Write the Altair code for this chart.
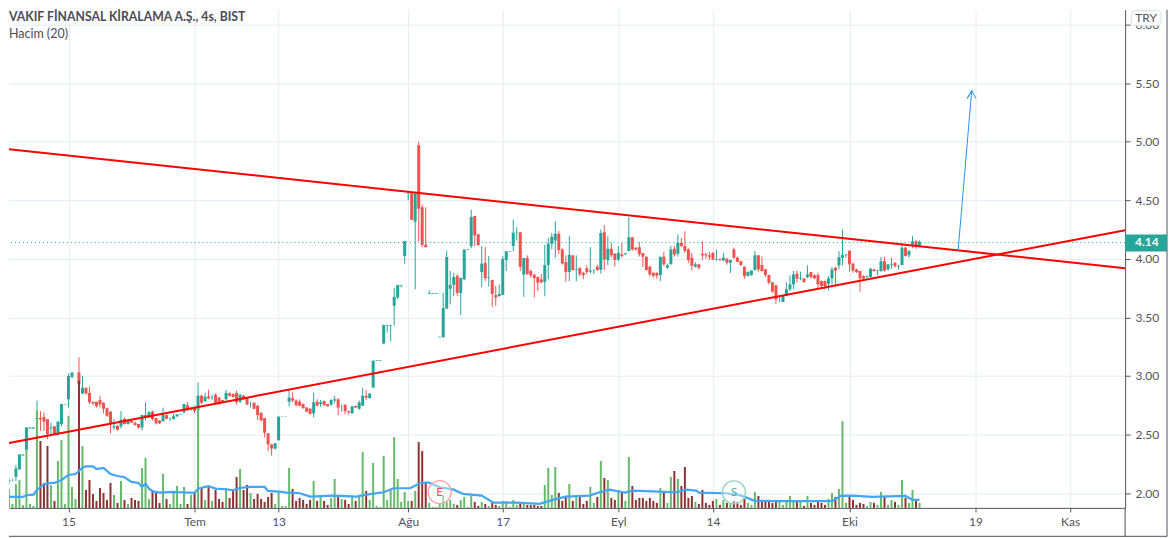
import altair as alt
import pandas as pd

# fiyat verileri (4 saatlik mumlar)
acilis = [
    2.10, 2.11, 2.10, 2.12, 2.14, 2.20, 2.32, 2.37, 2.55, 2.55,
    2.63, 2.64, 2.65, 2.63, 2.55, 2.57, 2.505, 2.59, 2.76, 2.80,
    2.99, 3.03, 3.03, 2.85, 2.90, 2.855, 2.78, 2.78, 2.795, 2.77,
    2.725, 2.695, 2.56, 2.575, 2.57, 2.635, 2.59, 2.615, 2.60, 2.59,
    2.56, 2.647, 2.647, 2.695, 2.64, 2.62, 2.615, 2.665, 2.635, 2.635,
    2.655, 2.67, 2.69, 2.75, 2.715, 2.73, 2.71, 2.83, 2.783, 2.825,
    2.815, 2.84, 2.815, 2.795, 2.80, 2.85, 2.845, 2.855, 2.78, 2.83,
    2.81, 2.755, 2.77, 2.745, 2.685, 2.64, 2.51, 2.415, 2.38, 2.45,
    2.653, 2.653, 2.78, 2.81, 2.79, 2.78, 2.76, 2.73, 2.72, 2.68,
    2.78, 2.76, 2.785, 2.76, 2.755, 2.79, 2.80, 2.75, 2.755, 2.70,
    2.68, 2.745, 2.72, 2.745, 2.83, 2.81, 2.90, 3.13, 3.13, 3.277,
    3.43, 3.43, 3.60, 3.67, 3.77, 4.024, 4.555, 4.56, 4.317, 4.97,
    4.44, 4.12, 3.70, 3.70, 3.70, 3.33, 3.33, 3.575, 3.745, 3.777,
    3.854, 3.709, 3.825, 4.08, 4.11, 4.365, 4.21, 3.888, 3.965, 3.84,
    3.82, 3.69, 3.68, 3.692, 3.99, 4.06, 4.109, 4.225, 4.228, 3.865,
    4.007, 3.896, 3.865, 3.845, 3.825, 3.805, 3.947, 4.129, 4.157, 4.214,
    4.08, 3.973, 3.888, 4.03, 3.905, 3.92, 3.88, 3.92, 3.89, 3.895,
    3.933, 3.905, 4.228, 3.99, 4.086, 4.044, 3.995, 4.038, 4.04, 4.066,
    4.185, 4.094, 4.10, 4.05, 4.018, 3.933, 3.88, 3.88, 3.862, 4.018,
    3.924, 3.953, 4.086, 4.044, 4.137, 4.109, 4.08, 4.01, 3.933, 3.953,
    4.043, 4.04, 4.03, 4.05, 3.99, 4.0, 3.987, 4.0, 3.967, 4.08,
    4.01, 3.98, 3.933, 3.853, 3.862, 3.904, 4.03, 3.947, 3.91, 3.862,
    3.80, 3.774, 3.66, 3.632, 3.683, 3.74, 3.782, 3.873, 3.83, 3.833,
    3.845, 3.887, 3.86, 3.862, 3.81, 3.81, 3.788, 3.833, 3.924, 3.944,
    4.009, 4.03, 4.07, 3.958, 3.91, 3.896, 3.853, 3.845, 3.845, 3.91,
    3.90, 3.896, 3.98, 3.91, 3.95, 3.967, 3.935, 3.947, 4.095, 4.03,
    4.123, 4.15, 4.117,
]
kapanis = [
    2.11, 2.08, 2.11, 2.12, 2.21, 2.33, 2.33, 2.56, 2.56, 2.56,
    2.64, 2.63, 2.61, 2.505, 2.56, 2.505, 2.61, 2.76, 2.76, 3.00,
    3.03, 3.03, 2.93, 2.90, 2.85, 2.775, 2.765, 2.74, 2.755, 2.72,
    2.66, 2.585, 2.57, 2.54, 2.625, 2.59, 2.62, 2.60, 2.58, 2.56,
    2.667, 2.667, 2.69, 2.633, 2.596, 2.596, 2.67, 2.635, 2.637, 2.655,
    2.67, 2.675, 2.76, 2.71, 2.72, 2.70, 2.83, 2.77, 2.823, 2.81,
    2.82, 2.76, 2.76, 2.78, 2.855, 2.83, 2.82, 2.775, 2.84, 2.80,
    2.755, 2.757, 2.72, 2.665, 2.62, 2.515, 2.415, 2.38, 2.425, 2.653,
    2.655, 2.655, 2.815, 2.79, 2.75, 2.745, 2.725, 2.695, 2.675, 2.775,
    2.745, 2.775, 2.75, 2.74, 2.795, 2.80, 2.73, 2.75, 2.70, 2.69,
    2.74, 2.73, 2.775, 2.83, 2.815, 2.85, 3.13, 3.135, 3.135, 3.436,
    3.436, 3.436, 3.675, 3.777, 3.775, 4.152, 4.56, 4.334, 4.56, 4.427,
    4.118, 4.10, 3.706, 3.706, 3.706, 3.335, 3.58, 4.016, 3.777, 3.845,
    3.709, 3.837, 4.08, 4.085, 4.357, 4.20, 4.118, 3.959, 3.834, 3.845,
    3.70, 3.67, 3.70, 3.999, 4.064, 4.064, 4.223, 4.228, 3.933, 4.007,
    3.87, 3.86, 3.836, 3.797, 3.80, 3.947, 4.129, 4.189, 4.214, 4.075,
    3.96, 3.888, 4.035, 3.905, 3.91, 3.868, 3.86, 3.888, 3.90, 3.90,
    3.905, 4.22, 3.995, 4.086, 4.03, 3.99, 4.05, 4.024, 4.047, 4.185,
    4.08, 4.08, 4.04, 4.018, 3.904, 3.867, 3.856, 3.856, 4.018, 3.953,
    3.944, 4.08, 4.038, 4.137, 4.109, 4.066, 3.99, 3.94, 3.953, 3.924,
    4.03, 4.03, 4.018, 3.995, 3.995, 3.99, 4.01, 3.967, 3.99, 4.01,
    3.975, 3.947, 3.853, 3.89, 3.90, 4.03, 3.91, 3.896, 3.862, 3.796,
    3.72, 3.654, 3.66, 3.683, 3.74, 3.782, 3.867, 3.83, 3.835, 3.80,
    3.867, 3.845, 3.833, 3.782, 3.768, 3.768, 3.833, 3.91, 3.90, 4.015,
    4.032, 4.038, 3.953, 3.90, 3.887, 3.833, 3.833, 3.85, 3.916, 3.896,
    3.905, 3.98, 3.90, 3.953, 3.955, 3.938, 3.94, 4.095, 4.024, 4.07,
    4.15, 4.11, 4.145,
]
yuksek = [
    2.12, 2.12, 2.13, 2.12, 2.24, 2.33, 2.33, 2.56, 2.56, 2.56,
    2.79, 2.70, 2.69, 2.63, 2.60, 2.57, 2.61, 2.76, 2.76, 3.02,
    3.03, 3.03, 3.16, 3.00, 2.90, 2.91, 2.78, 2.78, 2.83, 2.775,
    2.73, 2.70, 2.63, 2.58, 2.70, 2.645, 2.63, 2.62, 2.61, 2.59,
    2.667, 2.775, 2.70, 2.705, 2.64, 2.62, 2.73, 2.67, 2.647, 2.675,
    2.675, 2.675, 2.76, 2.775, 2.73, 2.74, 2.945, 2.84, 2.854, 2.883,
    2.84, 2.85, 2.82, 2.795, 2.88, 2.86, 2.85, 2.875, 2.845, 2.84,
    2.82, 2.78, 2.775, 2.75, 2.69, 2.64, 2.51, 2.42, 2.43, 2.653,
    2.655, 2.655, 2.888, 2.86, 2.80, 2.80, 2.765, 2.735, 2.725, 2.857,
    2.80, 2.795, 2.79, 2.76, 2.80, 2.83, 2.81, 2.755, 2.755, 2.70,
    2.745, 2.745, 2.79, 2.90, 2.88, 2.85, 3.13, 3.135, 3.135, 3.436,
    3.436, 3.436, 3.75, 3.777, 3.775, 4.152, 4.56, 4.56, 4.56, 5.0,
    4.464, 4.44, 3.73, 3.706, 3.706, 3.335, 3.71, 4.07, 3.897, 3.88,
    3.868, 3.84, 4.08, 4.085, 4.42, 4.365, 4.21, 4.11, 4.10, 4.025,
    3.82, 3.77, 3.78, 4.024, 4.064, 4.064, 4.336, 4.27, 4.228, 4.007,
    4.03, 3.91, 3.87, 3.85, 3.87, 4.12, 4.18, 4.22, 4.322, 4.237,
    4.09, 4.03, 4.194, 4.03, 4.03, 3.93, 3.89, 3.947, 4.10, 3.91,
    3.95, 4.25, 4.288, 4.194, 4.138, 4.05, 4.11, 4.138, 4.05, 4.356,
    4.185, 4.10, 4.143, 4.05, 4.02, 3.94, 3.885, 3.885, 4.018, 4.06,
    3.96, 4.11, 4.11, 4.208, 4.18, 4.236, 4.09, 4.05, 3.97, 3.955,
    4.15, 4.05, 4.06, 4.06, 4.08, 4.0, 4.05, 4.01, 3.99, 4.095,
    4.02, 3.98, 3.935, 3.89, 3.90, 4.066, 4.03, 4.02, 3.915, 3.865,
    3.80, 3.78, 3.68, 3.69, 3.80, 3.86, 3.896, 3.896, 3.89, 3.835,
    3.944, 3.887, 3.867, 3.88, 3.815, 3.815, 3.853, 3.93, 3.93, 4.066,
    4.25, 4.04, 4.07, 3.97, 3.915, 3.90, 3.86, 3.86, 3.92, 3.915,
    3.905, 4.018, 4.018, 3.953, 4.01, 3.97, 3.95, 4.123, 4.10, 4.07,
    4.194, 4.16, 4.157,
]
dusuk = [
    2.09, 2.07, 2.07, 2.10, 2.10, 2.20, 2.32, 2.35, 2.55, 2.55,
    2.59, 2.53, 2.53, 2.46, 2.505, 2.50, 2.49, 2.57, 2.75, 2.73,
    2.98, 3.03, 2.85, 2.845, 2.84, 2.76, 2.75, 2.73, 2.73, 2.68,
    2.65, 2.51, 2.54, 2.53, 2.55, 2.585, 2.585, 2.60, 2.575, 2.55,
    2.535, 2.62, 2.64, 2.62, 2.585, 2.59, 2.605, 2.63, 2.615, 2.625,
    2.65, 2.67, 2.68, 2.70, 2.70, 2.68, 2.69, 2.76, 2.78, 2.80,
    2.795, 2.755, 2.75, 2.78, 2.79, 2.825, 2.815, 2.755, 2.77, 2.795,
    2.75, 2.73, 2.715, 2.625, 2.615, 2.476, 2.36, 2.32, 2.37, 2.45,
    2.653, 2.653, 2.74, 2.775, 2.74, 2.74, 2.72, 2.69, 2.67, 2.647,
    2.74, 2.735, 2.745, 2.74, 2.745, 2.765, 2.665, 2.695, 2.675, 2.67,
    2.68, 2.73, 2.71, 2.745, 2.795, 2.81, 2.90, 3.13, 3.13, 3.27,
    3.37, 3.295, 3.43, 3.655, 3.755, 3.96, 4.50, 4.33, 3.74, 4.15,
    4.10, 4.10, 3.70, 3.70, 3.70, 3.33, 3.33, 3.575, 3.61, 3.68,
    3.684, 3.52, 3.82, 4.08, 4.09, 4.11, 4.11, 3.755, 3.81, 3.763,
    3.59, 3.60, 3.68, 3.69, 3.896, 4.06, 4.066, 4.157, 3.896, 3.675,
    3.865, 3.84, 3.67, 3.725, 3.79, 3.68, 3.825, 4.08, 4.01, 4.04,
    3.95, 3.805, 3.81, 3.90, 3.81, 3.85, 3.825, 3.868, 3.876, 3.87,
    3.895, 3.875, 3.905, 3.947, 4.01, 3.933, 3.98, 4.01, 4.03, 4.066,
    4.07, 4.07, 4.02, 3.93, 3.90, 3.85, 3.84, 3.83, 3.81, 3.94,
    3.915, 3.953, 4.02, 4.02, 4.10, 4.05, 3.965, 3.90, 3.925, 3.91,
    3.99, 4.0, 3.99, 3.99, 3.985, 3.985, 3.98, 3.95, 3.88, 4.0,
    3.97, 3.94, 3.83, 3.85, 3.855, 3.90, 3.89, 3.89, 3.845, 3.78,
    3.71, 3.617, 3.632, 3.63, 3.68, 3.725, 3.74, 3.796, 3.816, 3.80,
    3.833, 3.83, 3.83, 3.748, 3.745, 3.74, 3.73, 3.78, 3.776, 3.91,
    3.944, 4.01, 3.89, 3.88, 3.88, 3.72, 3.81, 3.825, 3.84, 3.89,
    3.86, 3.887, 3.89, 3.90, 3.916, 3.925, 3.91, 3.947, 4.02, 4.01,
    4.09, 4.086, 4.10,
]
hacim = [
    4, 9, 19, 4, 24, 28, 3, 58.5, 4, 2,
    98, 67, 25, 62, 23, 7, 47, 68, 4, 92.5,
    21, 9, 127.5, 62, 18, 28, 14, 7, 20, 15,
    8, 25, 13, 5, 27, 8, 4, 10, 8, 7,
    40, 50, 9, 18, 15, 5, 34, 9, 4, 15,
    22, 4, 21, 4, 13, 15, 102, 21, 8, 21,
    7, 18, 9, 6, 20, 10, 18, 31, 39, 18,
    23, 15, 9, 14, 9, 6, 11, 15, 4, 17,
    2, 2, 40, 19, 7, 10, 8, 4, 8, 27,
    7, 12, 7, 3, 10, 29, 11, 9, 8, 4,
    11, 7, 12, 56, 17, 8, 45, 2, 1, 52,
    8, 18, 71, 29, 6, 16, 7, 7, 17, 66,
    57, 26, 5, 1, 1, 4, 12, 6, 8, 4,
    3, 8, 11, 1, 12, 6, 2, 6, 4, 2,
    5, 3, 2, 7, 7, 1, 8, 3, 4, 6,
    3, 3, 3, 2, 2, 23, 40, 13, 41, 15,
    7, 12, 24, 7, 13, 11, 4, 7, 21, 5,
    11, 47, 30, 28, 10, 8, 16, 16, 7, 51,
    22, 8, 10, 10, 7, 10, 7, 5, 20, 16,
    5, 31, 37, 29, 22, 41, 10, 12, 6, 4,
    18, 5, 3, 7, 9, 3, 8, 5, 5, 7,
    6, 3, 9, 5, 3, 16, 12, 8, 7, 6,
    5, 8, 6, 3, 7, 12, 7, 7, 6, 2,
    12, 5, 3, 7, 5, 3, 9, 15, 11, 19,
    87, 5, 11, 8, 3, 5, 4, 2, 6, 5,
    3, 16, 11, 3, 8, 6, 3, 28, 10, 5,
    18, 7, 5,
]

# hacim ortalamasi (20), okunan kirilma noktalari
ort_bar = [
    0, 6, 7, 9, 10, 12, 14, 15, 17, 19, 21, 23, 24, 26, 27, 29, 31, 33, 35, 37,
    39, 40, 41, 42, 43, 45, 49, 51, 55, 56, 58, 59, 61, 64, 66, 68, 71, 75, 76, 80,
    81, 83, 85, 88, 94.7, 101.3, 104, 109, 111.8, 116.5, 119.4, 121.7, 125, 129,
    131.7, 137, 140.3, 146.9, 153.5, 158.3, 161, 167.8, 170.6, 173.5, 177.8, 180.1,
    187.7, 192.5, 195.3, 198.2, 199.1, 206.7, 210.5, 214.8, 221, 237.1, 239.5,
    242.8, 248.5, 258, 259.9, 262,
]
ort_deger = [
    11, 11, 12.7, 13.3, 18, 23.7, 25, 25, 28, 33, 34, 40.3, 41.7, 41.7, 39, 40, 34, 32, 30.7, 26,
    25, 21, 24.3, 19.3, 16.7, 15.3, 16, 15.7, 15, 19.3, 21, 21.7, 19.3, 18.7, 17.7, 20, 21, 21, 17, 16,
    15.3, 15.3, 14.7, 11.3, 12.3, 11.3, 13.3, 15.7, 19.7, 19.7, 24.7, 25.7, 20.7, 18.3,
    14, 12.3, 5.3, 5.3, 4, 9, 11.3, 12.3, 15.7, 18.3, 15.3, 17.3,
    16.3, 15.7, 18.3, 17.3, 15.3, 14.7, 13, 7.3, 6.7, 6.7, 12,
    12.3, 11, 12, 8.3, 8,
]

# eksen etiketleri
x_ticks = [19, 55, 79, 116, 143, 176, 203, 242, 278, 305]
x_labels = ["15", "Tem", "13", "Ağu", "17", "Eyl", "14", "Eki", "19", "Kas"]
y_ticks = [2.0, 2.5, 3.0, 3.5, 4.0, 4.5, 5.0, 5.5, 6.0]

# trend cizgileri ve ok
ust_trend_x = [2.02, 320.7]
ust_trend_y = [4.936, 3.92]
alt_trend_x = [2.02, 320.7]
alt_trend_y = [2.427, 4.245]
ok_x = [273, 276.9, 275.6, 276.9, 278.1]
ok_y = [4.066, 5.437, 5.37, 5.437, 5.37]
son_fiyat = 4.14

ZEMIN = "#e4ecf2"
KOYU = "#50535e"
YAZI = "Lato"

df = pd.DataFrame({
    "bar": range(len(acilis)),
    "acilis": acilis,
    "kapanis": kapanis,
    "yuksek": yuksek,
    "dusuk": dusuk,
    "hacim": hacim,
})
df["yon"] = ["yukari" if k >= a else "asagi" for a, k in zip(acilis, kapanis)]

x_expr = "{}[indexof({}, datum.value)]".format(x_labels, x_ticks)

x_scale = alt.Scale(domain=[2.02, 320.7], nice=False, zero=False, padding=0)
x_enc = alt.X("bar:Q", scale=x_scale, axis=alt.Axis(
    values=x_ticks, labelExpr=x_expr, title=None, grid=True, gridColor=ZEMIN,
    domainColor=KOYU, tickColor=KOYU, tickSize=4, labelPadding=5,
    labelColor=KOYU, labelFont=YAZI, labelFontSize=12, labelFlush=False, labelOverlap=False,
))

fiyat_scale = alt.Scale(domain=[1.873, 6.128], nice=False, zero=False)
fiyat_eks = alt.Axis(
    values=y_ticks, format=".2f", title=None, orient="right", grid=True, gridColor=ZEMIN,
    domainColor=KOYU, tickColor=KOYU, tickSize=5, labelPadding=5,
    labelColor=KOYU, labelFont=YAZI, labelFontSize=12,
)
hacim_scale = alt.Scale(domain=[0, 499.5], nice=False, zero=False)

mum_renk = alt.Color("yon:N", legend=None, scale=alt.Scale(
    domain=["yukari", "asagi"], range=["#26a69a", "#ef5350"]))
hacim_renk = alt.Color("yon:N", legend=None, scale=alt.Scale(
    domain=["yukari", "asagi"], range=["#66bb6a", "#8d3232"]))

fitil = alt.Chart(df).mark_rule(strokeWidth=1, clip=True).encode(
    x=x_enc,
    y=alt.Y("dusuk:Q", scale=fiyat_scale, axis=fiyat_eks),
    y2="yuksek:Q",
    color=mum_renk,
)
govde = alt.Chart(df).mark_bar(size=3, clip=True).encode(
    x=x_enc,
    y=alt.Y("acilis:Q", scale=fiyat_scale, axis=None),
    y2="kapanis:Q",
    color=mum_renk,
)
son_cizgi = alt.Chart(pd.DataFrame({"f": [son_fiyat]})).mark_rule(
    color="#26a69a", strokeDash=[1, 3], strokeWidth=1
).encode(y=alt.Y("f:Q", scale=fiyat_scale, axis=None))

hacim_bar = alt.Chart(df).mark_bar(size=2, clip=True).encode(
    x=x_enc,
    y=alt.Y("hacim:Q", scale=hacim_scale, axis=None),
    color=hacim_renk,
)
hacim_ort = alt.Chart(pd.DataFrame({"bar": ort_bar, "ort": ort_deger})).mark_line(
    color="#42a5f5", strokeWidth=2.2, clip=True
).encode(
    x=x_enc,
    y=alt.Y("ort:Q", scale=hacim_scale, axis=None),
)

ust_trend = alt.Chart(pd.DataFrame({"bar": ust_trend_x, "f": ust_trend_y})).mark_line(
    color="#ff0000", strokeWidth=2, clip=True
).encode(x=x_enc, y=alt.Y("f:Q", scale=fiyat_scale, axis=None))
alt_trend = alt.Chart(pd.DataFrame({"bar": alt_trend_x, "f": alt_trend_y})).mark_line(
    color="#ff0000", strokeWidth=2, clip=True
).encode(x=x_enc, y=alt.Y("f:Q", scale=fiyat_scale, axis=None))
ok = alt.Chart(pd.DataFrame({"bar": ok_x, "f": ok_y, "sira": range(len(ok_x))})).mark_line(
    color="#2196f3", strokeWidth=1
).encode(
    x=x_enc,
    y=alt.Y("f:Q", scale=fiyat_scale, axis=None),
    order="sira:Q",
)

# kazanc / temettu isaretleri
isaret = pd.DataFrame({"bar": [125, 209], "h": [15.8, 15.5], "harf": ["E", "S"]})
isaret_renk = alt.Color("harf:N", legend=None, scale=alt.Scale(
    domain=["E", "S"], range=["#f7a1a6", "#8fd3b6"]))
isaret_daire = alt.Chart(isaret).mark_point(
    shape="circle", size=531, filled=False, strokeWidth=1.3, fill="#ffffff", fillOpacity=0.4
).encode(
    x=x_enc,
    y=alt.Y("h:Q", scale=hacim_scale, axis=None),
    color=isaret_renk,
)
isaret_harf = alt.Chart(isaret).mark_text(font=YAZI, fontSize=12).encode(
    x=x_enc,
    y=alt.Y("h:Q", scale=hacim_scale, axis=None),
    text="harf:N",
    color=alt.Color("harf:N", legend=None, scale=alt.Scale(
        domain=["E", "S"], range=["#ef5350", "#4db38a"])),
)

tek = pd.DataFrame({"a": [0]})

# cerceve cizgileri (sag fiyat ekseni alti, sag ve alt kenar)
cerceve = [
    alt.Chart(tek).mark_rule(color=KOYU, strokeWidth=1).encode(
        x=alt.value(1119), y=alt.value(499.5), y2=alt.value(528)),
    alt.Chart(tek).mark_rule(color=KOYU, strokeWidth=1).encode(
        x=alt.value(1161), y=alt.value(0), y2=alt.value(528)),
    alt.Chart(tek).mark_rule(color=KOYU, strokeWidth=1).encode(
        x=alt.value(0), x2=alt.value(1161), y=alt.value(528)),
]

fiyat_kutu = alt.Chart(pd.DataFrame({"u": [son_fiyat + 0.067], "a": [son_fiyat - 0.077]})).mark_rect(
    color="#26a69a"
).encode(
    x=alt.value(1119),
    x2=alt.value(1161),
    y=alt.Y("u:Q", scale=fiyat_scale, axis=None),
    y2="a:Q",
)
fiyat_yazi = alt.Chart(pd.DataFrame({"f": [son_fiyat], "t": ["4.14"]})).mark_text(
    color="white", font=YAZI, fontSize=12, fontWeight="bold", align="left", baseline="middle"
).encode(
    x=alt.value(1129),
    y=alt.Y("f:Q", scale=fiyat_scale, axis=None),
    text="t:N",
)

try_kutu = alt.Chart(tek).mark_rect(
    fill="white", stroke="#d6dce6", strokeWidth=1, cornerRadius=4
).encode(x=alt.value(1125), x2=alt.value(1155), y=alt.value(1), y2=alt.value(16))
try_yazi = alt.Chart(tek).mark_text(
    text="TRY", color=KOYU, font=YAZI, fontSize=12
).encode(x=alt.value(1140), y=alt.value(8.5))

baslik = alt.Chart(tek).mark_text(
    text="VAKIF FİNANSAL KİRALAMA A.Ş., 4s, BIST", align="left", color="#4a4d57",
    font=YAZI, fontSize=12.3, fontWeight="bold"
).encode(x=alt.value(0), y=alt.value(7))
alt_baslik = alt.Chart(tek).mark_text(
    text="Hacim (20)", align="left", color="#4a4d57", font=YAZI, fontSize=12.5
).encode(x=alt.value(0), y=alt.value(24))

chart = alt.layer(
    fitil, govde, son_cizgi, hacim_bar, hacim_ort, ust_trend, alt_trend, ok,
    isaret_daire, isaret_harf, *cerceve, fiyat_kutu, fiyat_yazi, try_kutu, try_yazi,
    baslik, alt_baslik,
).resolve_scale(y="independent", color="independent").properties(
    width=1119, height=499.5, background="white", padding=0
).configure_view(stroke=None)

chart.save("out.html", embed_options={"renderer": "svg", "actions": False})
